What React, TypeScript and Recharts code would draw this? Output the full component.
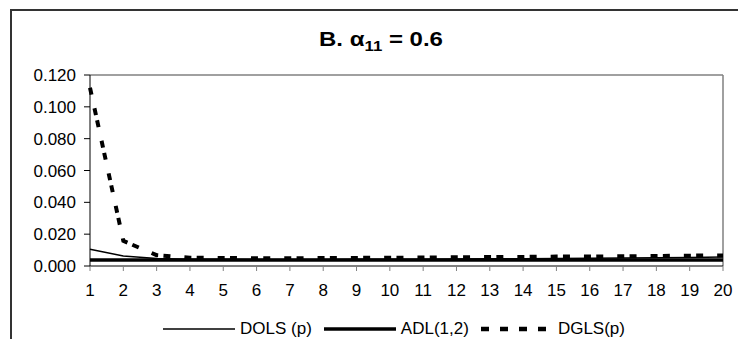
import React from 'react';
import { LineChart, Line, XAxis, YAxis, ReferenceLine, Legend } from 'recharts';

// Lag order p on the horizontal axis
const lags = [1, 2, 3, 4, 5, 6, 7, 8, 9, 10, 11, 12, 13, 14, 15, 16, 17, 18, 19, 20];

// Series values per lag
const dols = [0.0105, 0.0063, 0.0047, 0.0043, 0.0042, 0.0041, 0.0041, 0.0041, 0.0042, 0.0042, 0.0043, 0.0044, 0.0045, 0.0046, 0.0047, 0.0048, 0.0050, 0.0052, 0.0054, 0.0056];
const adl = [0.0037, 0.0037, 0.0037, 0.0037, 0.0037, 0.0037, 0.0037, 0.0037, 0.0037, 0.0037, 0.0037, 0.0037, 0.0037, 0.0037, 0.0037, 0.0037, 0.0037, 0.0037, 0.0037, 0.0037];
const dgls = [0.112, 0.0158, 0.0068, 0.0052, 0.0050, 0.0049, 0.0049, 0.0050, 0.0051, 0.0052, 0.0053, 0.0055, 0.0056, 0.0057, 0.0059, 0.0060, 0.0061, 0.0063, 0.0065, 0.0066];

const yTicks = [0, 0.02, 0.04, 0.06, 0.08, 0.1, 0.12];

const data = lags.map((p, i) => ({ p, dols: dols[i], adl: adl[i], dgls: dgls[i] }));

const FONT = 'Arial, "Liberation Sans", sans-serif';

// full-bleed page so the frame can run to the edges
document.body.style.margin = '0';

const legendItems = [
  { label: 'DOLS (p)', width: 1.5, dash: undefined },
  { label: 'ADL(1,2)', width: 3.5, dash: undefined },
  { label: 'DGLS(p)', width: 4.5, dash: '8 11' },
];

const renderLegend = () => (
  <div
    style={{
      display: 'flex',
      justifyContent: 'center',
      alignItems: 'center',
      paddingLeft: 42,
      fontFamily: FONT,
      fontSize: 17,
      color: '#000',
      height: 20,
    }}
  >
    {legendItems.map((item, i) => (
      <div
        key={item.label}
        style={{ display: 'flex', alignItems: 'center', marginRight: i < legendItems.length - 1 ? 12 : 0 }}
      >
        <svg width={72} height={10} style={{ marginRight: 5 }}>
          <line x1={0} y1={5} x2={72} y2={5} stroke="#000" strokeWidth={item.width} strokeDasharray={item.dash} />
        </svg>
        <span style={{ whiteSpace: 'pre' }}>{item.label}</span>
      </div>
    ))}
  </div>
);

export default function App() {
  return (
    <div
      style={{
        position: 'relative',
        width: 738,
        height: 339,
        overflow: 'hidden',
        background: '#fff',
        fontFamily: FONT,
      }}
    >
      <div
        style={{
          position: 'absolute',
          left: 10,
          top: 9,
          width: 740,
          height: 340,
          borderLeft: '2px solid #333',
          borderTop: '2px solid #333',
        }}
      />
      <div
        style={{
          position: 'absolute',
          left: 381,
          top: 29,
          transform: 'translateX(-50%) scaleX(1.2)',
          fontSize: 20,
          fontWeight: 'bold',
          lineHeight: 1,
          whiteSpace: 'nowrap',
        }}
      >
        B. α<sub style={{ fontSize: 14, verticalAlign: -5 }}>11</sub> = 0.6
      </div>
      <LineChart
        width={730}
        height={331}
        data={data}
        margin={{ top: 67, right: 15, bottom: 13, left: 20 }}
        style={{ position: 'absolute', left: 8, top: 8 }}
      >
        <XAxis
          dataKey="p"
          type="number"
          domain={[1, 20]}
          ticks={lags}
          interval={0}
          height={40}
          stroke="#000"
          tick={{ fill: '#000', fontSize: 17, fontFamily: FONT }}
          tickLine={{ stroke: '#808080' }}
          tickSize={5}
          tickMargin={13}
        />
        <YAxis
          domain={[0, 0.12]}
          ticks={yTicks}
          width={62}
          stroke="#000"
          tick={{ fill: '#000', fontSize: 17, fontFamily: FONT }}
          tickFormatter={(v: number) => v.toFixed(3)}
          tickSize={6}
          tickMargin={8}
          allowDataOverflow
        />
        <ReferenceLine y={0.12} stroke="#808080" strokeWidth={1.5} />
        <ReferenceLine x={20} stroke="#808080" strokeWidth={1.5} />
        <Legend
          content={renderLegend}
          verticalAlign="bottom"
          height={20}
          wrapperStyle={{ bottom: 0, left: 0, width: 730 }}
        />
        <Line dataKey="adl" name="ADL(1,2)" stroke="#000" strokeWidth={3.5} dot={false} isAnimationActive={false} />
        <Line dataKey="dols" name="DOLS (p)" stroke="#000" strokeWidth={1.5} dot={false} isAnimationActive={false} />
        <Line
          dataKey="dgls"
          name="DGLS(p)"
          stroke="#000"
          strokeWidth={4}
          strokeDasharray="7 14 7 5.3"
          dot={false}
          isAnimationActive={false}
        />
      </LineChart>
    </div>
  );
}
